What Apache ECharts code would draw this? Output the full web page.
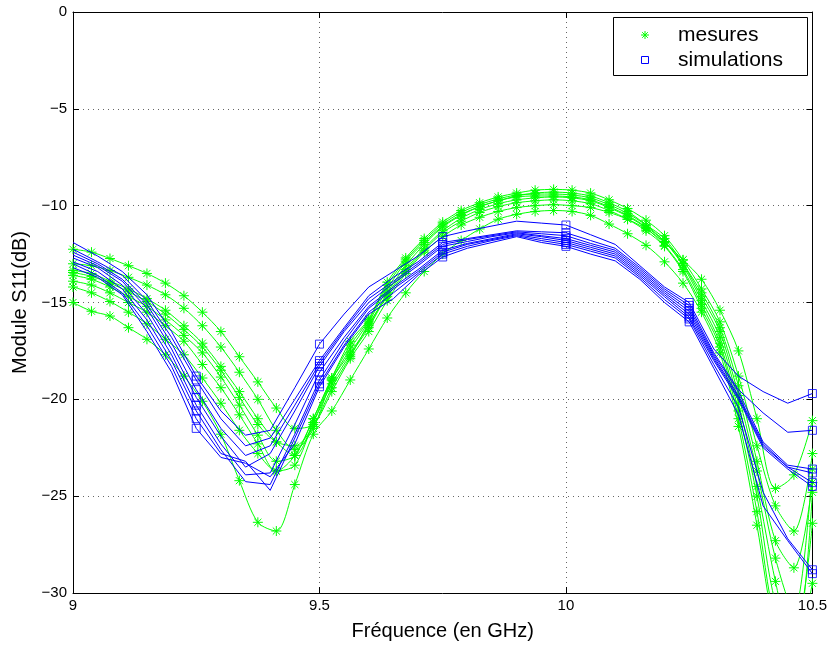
<!DOCTYPE html>
<html>
<head>
<meta charset="utf-8">
<script src="https://cdn.jsdelivr.net/npm/echarts@6/dist/echarts.min.js"></script>
<style>
html,body{margin:0;padding:0;background:#fff;}
#chart{width:830px;height:646px;}
</style>
</head>
<body>
<div id="chart"></div>
<script>
// Frequencies (GHz)
const freqMes = [9.0,9.0375,9.075,9.1125,9.15,9.1875,9.225,9.2625,9.3,9.3375,9.375,9.4125,9.45,9.4875,9.525,9.5625,9.6,9.6375,9.675,9.7125,9.75,9.7875,9.825,9.8625,9.9,9.9375,9.975,10.0125,10.05,10.0875,10.125,10.1625,10.2,10.2375,10.275,10.3125,10.35,10.3875,10.425,10.4625,10.5];
const freqSim = [9.0,9.05,9.1,9.15,9.2,9.25,9.3,9.35,9.4,9.45,9.5,9.55,9.6,9.65,9.7,9.75,9.8,9.85,9.9,9.95,10.0,10.05,10.1,10.15,10.2,10.25,10.3,10.35,10.4,10.45,10.5];

// Measurements (dB)
const mes1 = [-12.25,-12.4,-12.73,-13.1,-13.5,-14.0,-14.65,-15.5,-16.5,-17.8,-19.1,-20.45,-21.5,-21.3,-19.6,-17.9,-16.5,-14.9,-13.5,-12.4,-11.6,-11.0,-10.6,-10.3,-10.1,-10.0,-9.95,-10.0,-10.1,-10.35,-10.7,-11.2,-11.9,-12.8,-13.8,-15.4,-17.5,-21.0,-24.6,-23.9,-21.1];
const mes2 = [-13.0,-13.1,-13.35,-13.7,-14.1,-14.6,-15.3,-16.2,-17.3,-18.6,-20.0,-21.6,-22.6,-21.5,-19.0,-17.6,-16.2,-14.5,-13.1,-12.0,-11.1,-10.5,-10.05,-9.75,-9.5,-9.35,-9.3,-9.35,-9.5,-9.85,-10.3,-11.0,-11.85,-13.0,-14.5,-16.3,-19.3,-23.2,-27.3,-28.7,-24.3];
const mes3 = [-13.35,-13.5,-13.9,-14.3,-14.8,-15.4,-16.2,-17.1,-18.3,-19.6,-21.0,-22.2,-22.9,-21.2,-19.2,-17.7,-16.3,-14.6,-13.3,-12.2,-11.3,-10.65,-10.2,-9.9,-9.7,-9.6,-9.55,-9.6,-9.75,-10.1,-10.55,-11.15,-12.05,-13.3,-15.1,-17.1,-20.6,-25.0,-30.5,-32.0,-26.4];
const mes4 = [-13.6,-13.8,-14.2,-14.7,-15.2,-15.9,-16.7,-17.6,-18.85,-20.3,-21.85,-23.2,-22.9,-21.0,-18.9,-17.2,-15.9,-14.1,-12.8,-11.8,-10.95,-10.35,-9.95,-9.65,-9.45,-9.4,-9.4,-9.45,-9.6,-9.95,-10.4,-11.0,-11.7,-13.0,-14.7,-16.5,-19.8,-23.7,-28.2,-31.0,-23.6];
const mes5 = [-13.9,-14.1,-14.5,-15.0,-15.5,-16.2,-17.0,-18.2,-19.4,-20.8,-22.3,-23.7,-23.4,-21.2,-19.0,-17.4,-16.0,-14.3,-12.9,-11.9,-11.05,-10.45,-10.05,-9.75,-9.55,-9.5,-9.5,-9.55,-9.7,-10.05,-10.5,-11.1,-11.85,-13.1,-14.9,-16.8,-20.2,-24.5,-29.4,-33.0,-29.5];
const mes6 = [-14.2,-14.5,-14.95,-15.5,-16.1,-16.9,-17.7,-18.9,-20.2,-21.6,-22.8,-23.7,-22.9,-21.0,-18.9,-17.0,-15.85,-13.95,-12.7,-11.7,-10.85,-10.25,-9.85,-9.55,-9.35,-9.2,-9.16,-9.2,-9.35,-9.7,-10.15,-10.75,-11.55,-12.8,-14.3,-16.0,-18.8,-22.4,-25.5,-26.8,-22.8];
const mes7 = [-15.0,-15.45,-15.7,-16.3,-16.9,-17.7,-18.8,-20.1,-21.8,-24.2,-26.35,-26.8,-24.4,-21.8,-20.6,-19.0,-17.4,-15.8,-14.5,-13.4,-12.5,-11.8,-11.2,-10.7,-10.45,-10.3,-10.25,-10.3,-10.5,-10.95,-11.45,-12.05,-12.9,-14.0,-15.5,-17.6,-21.4,-26.5,-32.0,-34.0,-31.0];
const mes8 = [-13.45,-13.65,-14.0,-14.45,-14.95,-15.6,-16.4,-17.3,-18.5,-19.9,-21.3,-22.2,-22.4,-21.4,-19.4,-17.8,-16.1,-14.7,-13.4,-12.3,-11.4,-10.8,-10.35,-10.05,-9.85,-9.75,-9.7,-9.75,-9.9,-10.25,-10.7,-11.3,-12.1,-13.4,-15.3,-17.3,-21.0,-25.8,-31.5,-33.0,-24.8];

// Simulations (dB)
const sim1 = [-11.9,-12.6,-13.4,-14.6,-16.5,-18.8,-20.6,-21.85,-21.6,-19.4,-17.15,-15.6,-14.2,-13.4,-12.6,-11.6,-11.3,-11.05,-10.8,-10.9,-11.0,-11.5,-12.0,-13.1,-14.2,-15.0,-17.4,-18.8,-19.6,-20.2,-19.7];
const sim2 = [-12.25,-12.9,-13.6,-14.9,-16.8,-19.0,-21.0,-22.4,-22.0,-20.0,-18.0,-16.3,-14.65,-13.7,-12.9,-11.9,-11.7,-11.5,-11.3,-11.35,-11.4,-11.8,-12.2,-13.2,-14.3,-15.15,-17.6,-19.5,-20.7,-21.7,-21.6];
const sim3 = [-12.4,-13.0,-13.8,-15.1,-17.1,-19.5,-21.5,-22.9,-22.4,-20.3,-18.15,-16.4,-14.8,-13.9,-13.0,-12.0,-11.75,-11.55,-11.35,-11.45,-11.55,-11.95,-12.3,-13.3,-14.4,-15.3,-17.7,-19.6,-22.2,-23.4,-23.6];
const sim4 = [-12.55,-13.1,-13.9,-15.3,-17.4,-19.9,-21.9,-23.5,-22.8,-20.6,-18.3,-16.5,-15.0,-14.0,-13.1,-12.1,-11.85,-11.6,-11.4,-11.55,-11.7,-12.05,-12.4,-13.4,-14.5,-15.45,-17.8,-19.8,-22.3,-23.5,-23.8];
const sim5 = [-12.7,-13.2,-14.1,-15.6,-17.7,-20.3,-22.3,-23.9,-23.8,-21.3,-18.6,-16.8,-15.2,-14.2,-13.3,-12.3,-11.95,-11.7,-11.45,-11.6,-11.8,-12.15,-12.5,-13.5,-14.6,-15.6,-17.9,-19.9,-22.4,-23.5,-24.3];
const sim6 = [-12.9,-13.4,-14.3,-15.9,-18.0,-20.6,-22.6,-24.25,-24.4,-21.8,-19.0,-17.0,-15.3,-14.3,-13.4,-12.4,-12.0,-11.75,-11.5,-11.7,-11.9,-12.25,-12.6,-13.6,-14.7,-15.75,-18.0,-20.0,-22.5,-23.6,-24.5];
const sim7 = [-13.0,-13.6,-14.5,-16.2,-18.3,-21.0,-22.8,-23.2,-24.7,-22.0,-19.2,-17.2,-15.5,-14.5,-13.5,-12.5,-12.1,-11.8,-11.55,-11.8,-12.0,-12.35,-12.7,-13.7,-14.85,-15.85,-18.2,-20.4,-24.8,-27.2,-28.8];
const sim8 = [-13.2,-13.7,-14.6,-16.5,-18.6,-21.5,-23.0,-23.3,-24.0,-22.3,-19.35,-17.3,-15.6,-14.8,-13.6,-12.65,-12.2,-11.9,-11.6,-11.9,-12.1,-12.5,-12.85,-13.8,-15.0,-16.0,-18.4,-20.8,-25.5,-27.3,-29.0];

const xTicks = [9, 9.5, 10, 10.5];
const yTicks = [0, -5, -10, -15, -20, -25, -30];
const legendNames = ['mesures', 'simulations'];
const xTitle = 'Fréquence (en GHz)';
const yTitle = 'Module S11(dB)';

const mesList = [mes1, mes2, mes3, mes4, mes5, mes6, mes7, mes8];
const simList = [sim1, sim2, sim3, sim4, sim5, sim6, sim7, sim8];

const FONT = "'Liberation Sans', Arial, Helvetica, sans-serif";
const GREEN = '#00ff00';
const BLUE = '#0000ff';
const STAR = 'path://M5,0L5,10M0,5L10,5M1.46,1.46L8.54,8.54M1.46,8.54L8.54,1.46';

const series = [];
mesList.forEach(function (arr) {
  series.push({
    name: legendNames[0],
    type: 'line',
    data: freqMes.map(function (f, i) { return [f, arr[i]]; }),
    smooth: 0.3,
    symbol: STAR,
    symbolSize: 10,
    showAllSymbol: true,
    symbolKeepAspect: true,
    lineStyle: { color: GREEN, width: 1 },
    itemStyle: { color: 'rgba(0,0,0,0)', borderColor: GREEN, borderWidth: 1 },
    emphasis: { disabled: true },
    z: 2
  });
});
simList.forEach(function (arr) {
  series.push({
    name: legendNames[1],
    type: 'line',
    data: freqSim.map(function (f, i) { return [f, arr[i]]; }),
    symbol: 'none',
    lineStyle: { color: BLUE, width: 1 },
    itemStyle: { color: BLUE },
    emphasis: { disabled: true },
    z: 3
  });
});
simList.forEach(function (arr) {
  const pts = [];
  freqSim.forEach(function (f, i) { if (i > 0 && i % 5 === 0) pts.push([f, arr[i]]); });
  series.push({
    name: legendNames[1],
    type: 'scatter',
    data: pts,
    symbol: 'rect',
    symbolSize: 8,
    clip: false,
    itemStyle: { color: 'rgba(0,0,0,0)', borderColor: BLUE, borderWidth: 1 },
    emphasis: { disabled: true },
    z: 4
  });
});

function fmtNum(v) {
  return v < 0 ? '\u2212' + String(Math.abs(v)) : String(v);
}

// Legend box drawn as graphic (icons + real text)
const LX = 613.5, LY = 17.5, LW = 194, LH = 58;
const starLines = [
  [[645, 31], [645, 39]],
  [[641, 35], [649, 35]],
  [[642.2, 32.2], [647.8, 37.8]],
  [[642.2, 37.8], [647.8, 32.2]]
].map(function (p) {
  return {
    type: 'line', z: 101,
    shape: { x1: p[0][0], y1: p[0][1], x2: p[1][0], y2: p[1][1] },
    style: { stroke: GREEN, lineWidth: 1 }
  };
});
const legendGraphic = [
  { type: 'rect', z: 100, shape: { x: LX, y: LY, width: LW, height: LH },
    style: { fill: '#fff', stroke: '#000', lineWidth: 1 } }
].concat(starLines).concat([
  { type: 'rect', z: 101, shape: { x: 641.5, y: 56.5, width: 7, height: 7 },
    style: { fill: 'rgba(0,0,0,0)', stroke: BLUE, lineWidth: 1 } },
  { type: 'text', z: 101, x: 678, y: 35,
    style: { text: legendNames[0], fill: '#000', font: '21px ' + FONT, textVerticalAlign: 'middle', verticalAlign: 'middle' } },
  { type: 'text', z: 101, x: 678, y: 60,
    style: { text: legendNames[1], fill: '#000', font: '21px ' + FONT, textVerticalAlign: 'middle', verticalAlign: 'middle' } }
]);

const chart = echarts.init(document.getElementById('chart'), null, { renderer: 'canvas' });
chart.setOption({
  animation: false,
  backgroundColor: '#ffffff',
  textStyle: { fontFamily: FONT },
  grid: { left: 73, right: 14, top: 12, bottom: 51, containLabel: false },
  graphic: legendGraphic,
  xAxis: [
    {
      type: 'value', min: xTicks[0], max: xTicks[xTicks.length - 1], interval: 0.5,
      name: xTitle, nameLocation: 'middle', nameGap: 28,
      nameTextStyle: { fontSize: 20, color: '#000', fontFamily: FONT },
      axisLine: { show: true, onZero: false, lineStyle: { color: '#000', width: 1 } },
      axisTick: { show: true, inside: true, length: 6, lineStyle: { color: '#000' } },
      axisLabel: { color: '#000', fontSize: 15, margin: 5, fontFamily: FONT, formatter: fmtNum },
      splitLine: { show: true, lineStyle: { color: '#666', type: [1, 4], width: 1 } }
    },
    {
      type: 'value', position: 'top', min: xTicks[0], max: xTicks[xTicks.length - 1], interval: 0.5,
      axisLine: { show: true, onZero: false, lineStyle: { color: '#000', width: 1 } },
      axisTick: { show: true, inside: true, length: 6, lineStyle: { color: '#000' } },
      axisLabel: { show: false },
      splitLine: { show: false }
    }
  ],
  yAxis: [
    {
      type: 'value', min: yTicks[yTicks.length - 1], max: yTicks[0], interval: 5,
      name: yTitle, nameLocation: 'middle', nameGap: 40, nameRotate: 90,
      nameTextStyle: { fontSize: 20, color: '#000', fontFamily: FONT },
      axisLine: { show: true, onZero: false, lineStyle: { color: '#000', width: 1 } },
      axisTick: { show: true, inside: true, length: 6, lineStyle: { color: '#000' } },
      axisLabel: { color: '#000', fontSize: 15, margin: 6, fontFamily: FONT, formatter: fmtNum },
      splitLine: { show: true, lineStyle: { color: '#666', type: [1, 4], width: 1 } }
    },
    {
      type: 'value', position: 'right', min: yTicks[yTicks.length - 1], max: yTicks[0], interval: 5,
      axisLine: { show: true, onZero: false, lineStyle: { color: '#000', width: 1 } },
      axisTick: { show: true, inside: true, length: 6, lineStyle: { color: '#000' } },
      axisLabel: { show: false },
      splitLine: { show: false }
    }
  ],
  series: series
});
</script>
</body>
</html>
